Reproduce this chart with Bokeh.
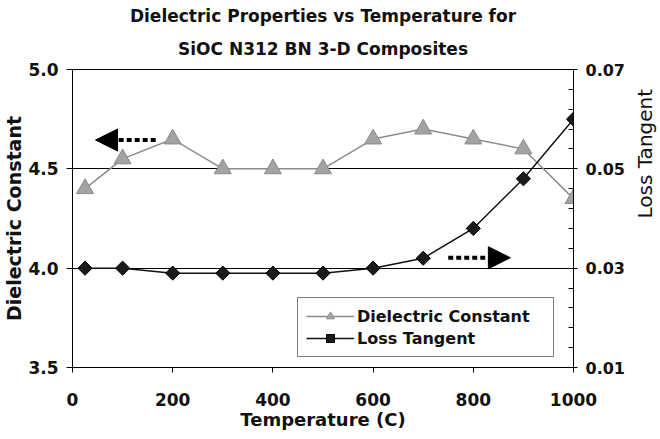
import numpy as np
from bokeh.plotting import figure
from bokeh.models import (Range1d, LinearAxis, FixedTicker, Legend, LegendItem,
                          Arrow, NormalHead, Title, PrintfTickFormatter)
from bokeh.embed import file_html
from bokeh.resources import INLINE

# ---- data ----
temperature = [25, 100, 200, 300, 400, 500, 600, 700, 800, 900, 1000]
dielectric_constant = [4.4, 4.55, 4.65, 4.5, 4.5, 4.5, 4.65, 4.7, 4.65, 4.6, 4.35]
loss_tangent = [0.030, 0.030, 0.029, 0.029, 0.029, 0.029, 0.030, 0.032, 0.038, 0.048, 0.060]

x_ticks = [0, 200, 400, 600, 800, 1000]
left_ticks = [3.5, 4.0, 4.5, 5.0]
right_ticks = [0.01, 0.03, 0.05, 0.07]
right_minor = [0.014, 0.018, 0.022, 0.026, 0.034, 0.038, 0.042, 0.046,
               0.054, 0.058, 0.062, 0.066]

# arrow annotations (data coords): (x_start, x_end, y)
left_arrow = (166, 46, 4.645)
right_arrow = (750, 874, 0.0321)

FONT = "DejaVu Sans"
TXT = "#111111"

p = figure(frame_width=501, frame_height=298, output_backend="svg", toolbar_location=None,
           x_range=Range1d(0, 1000), y_range=Range1d(3.5, 5.0),
           min_border_left=64, min_border_right=79, min_border_top=69,
           min_border_bottom=66, background_fill_color="white",
           border_fill_color="white")
p.extra_y_ranges = {"loss": Range1d(0.01, 0.07)}

p.outline_line_color = "black"
p.outline_line_width = 1

# titles (first added is closest to plot)
t2 = Title(text="SiOC N312 BN 3-D Composites", align="center",
           text_font=FONT, text_font_size="17px", text_font_style="bold",
           text_color=TXT, standoff=22)
t1 = Title(text="Dielectric Properties vs Temperature for", align="center",
           text_font=FONT, text_font_size="17px", text_font_style="bold",
           text_color=TXT, standoff=0)
p.add_layout(t2, "above")
p.add_layout(t1, "above")

# grid
p.xgrid.visible = False
p.ygrid.ticker = FixedTicker(ticks=[4.0, 4.5])
p.ygrid.grid_line_color = "black"
p.ygrid.grid_line_width = 1
p.ygrid.grid_line_alpha = 1

# x axis
xa = p.xaxis[0]
xa.ticker = FixedTicker(ticks=x_ticks)
xa.axis_label = "Temperature (C)"
xa.axis_label_text_font = FONT
xa.axis_label_text_font_size = "18px"
xa.axis_label_text_font_style = "bold"
xa.axis_label_text_color = TXT
xa.axis_label_standoff = 0
xa.major_label_text_font = FONT
xa.major_label_text_font_size = "17px"
xa.major_label_text_font_style = "bold"
xa.major_label_text_color = TXT
xa.major_label_standoff = 20
xa.major_tick_in = 0
xa.major_tick_out = 5
xa.minor_tick_line_color = None
xa.axis_line_color = "black"
xa.major_tick_line_color = "black"

# left axis
ya = p.yaxis[0]
ya.ticker = FixedTicker(ticks=left_ticks)
ya.formatter = PrintfTickFormatter(format="%.1f")
ya.axis_label = "Dielectric Constant"
ya.axis_label_text_font = FONT
ya.axis_label_text_font_size = "19px"
ya.axis_label_text_font_style = "bold"
ya.axis_label_text_color = TXT
ya.axis_label_standoff = 0
ya.major_label_text_font = FONT
ya.major_label_text_font_size = "17px"
ya.major_label_text_font_style = "bold"
ya.major_label_text_color = TXT
ya.major_label_standoff = 8
ya.major_tick_in = 0
ya.major_tick_out = 6
ya.minor_tick_line_color = None
ya.axis_line_color = "black"

# right axis
ra = LinearAxis(y_range_name="loss",
                ticker=FixedTicker(ticks=right_ticks, minor_ticks=right_minor),
                formatter=PrintfTickFormatter(format="%.2f"))
ra.axis_label = "Loss Tangent"
ra.axis_label_orientation = np.pi / 2
ra.axis_label_standoff = 17
ra.axis_label_text_font = FONT
ra.axis_label_text_font_size = "20px"
ra.axis_label_text_font_style = "normal"
ra.axis_label_text_color = TXT
ra.major_label_text_font = FONT
ra.major_label_text_font_size = "16px"
ra.major_label_text_font_style = "bold"
ra.major_label_text_color = TXT
ra.major_label_standoff = 8
ra.major_tick_in = 0
ra.major_tick_out = 4
ra.minor_tick_in = 5
ra.minor_tick_out = 0
ra.axis_line_color = "black"
p.add_layout(ra, "right")

# series
dc_line = p.line(temperature, dielectric_constant, line_color="#8c8c8c", line_width=1.5)
dc_pts = p.scatter(temperature, dielectric_constant, marker="triangle", size=17,
                   fill_color="#a3a3a3", line_color="#8a8a8a", line_width=1)
lt_line = p.line(temperature, loss_tangent, y_range_name="loss",
                 line_color="#111111", line_width=1.5)
lt_pts = p.scatter(temperature, loss_tangent, y_range_name="loss", marker="square",
                   angle=np.pi / 4, size=10, fill_color="#1a1a1a",
                   line_color="#000000", line_width=1)

# arrows
p.add_layout(Arrow(x_start=left_arrow[0], x_end=left_arrow[1],
                   y_start=left_arrow[2], y_end=left_arrow[2],
                   line_width=4, line_dash="5 3", line_color="black",
                   end=NormalHead(size=22, fill_color="black", line_color="black")))
p.add_layout(Arrow(x_start=right_arrow[0], x_end=right_arrow[1],
                   y_start=right_arrow[2], y_end=right_arrow[2],
                   y_range_name="loss",
                   line_width=4, line_dash="5 3", line_color="black",
                   end=NormalHead(size=22, fill_color="black", line_color="black")))

legend = Legend(items=[
    LegendItem(label="Dielectric Constant", renderers=[dc_line, dc_pts]),
    LegendItem(label="Loss Tangent", renderers=[lt_line, lt_pts]),
], location=(225, 10))
legend.label_text_font = FONT
legend.label_text_font_size = "16px"
legend.label_text_font_style = "bold"
legend.label_text_color = TXT
legend.border_line_color = "black"
legend.border_line_width = 1
legend.background_fill_alpha = 1
legend.glyph_width = 48
legend.glyph_height = 20
legend.label_height = 20
legend.label_width = 188
legend.label_standoff = 3
legend.padding = 8
legend.spacing = 2
legend.margin = 0
p.add_layout(legend, "center")

open("out.html", "w").write(file_html(p, INLINE))
